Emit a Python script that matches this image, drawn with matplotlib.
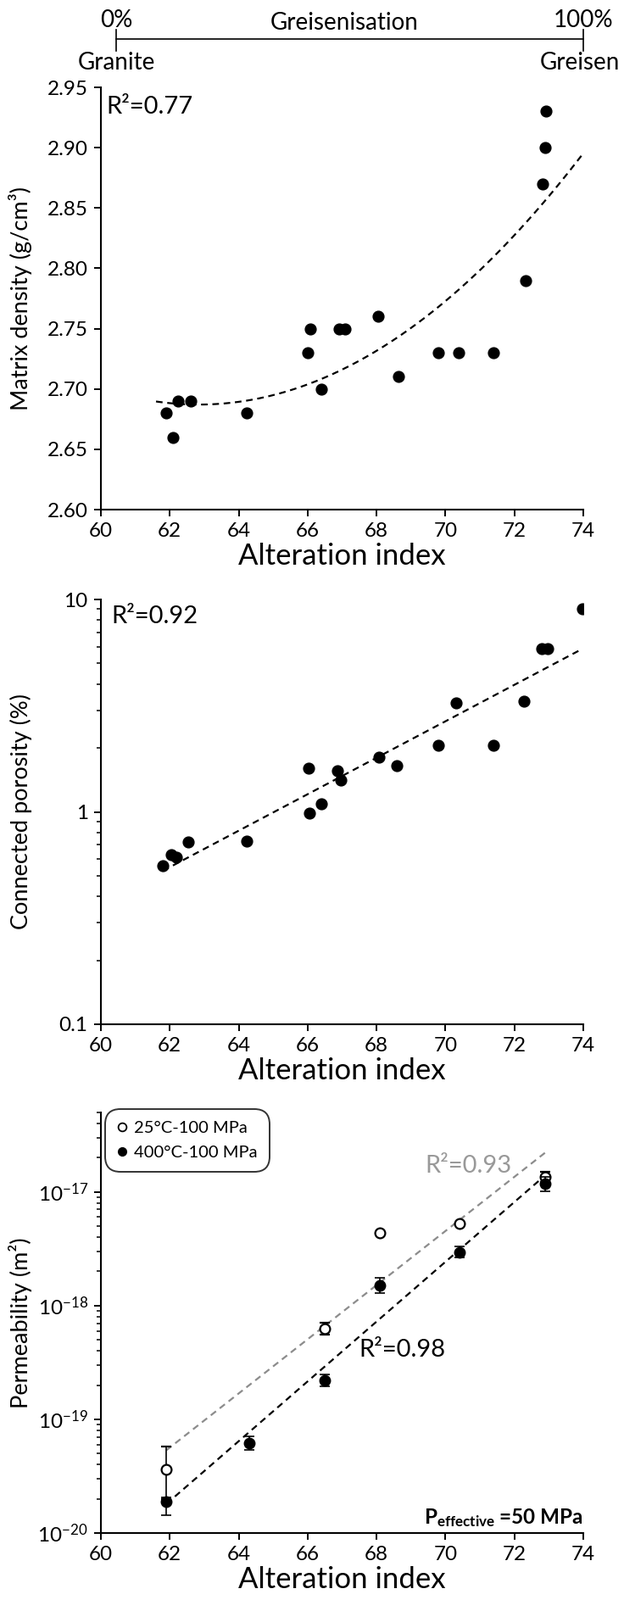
import numpy as np
import matplotlib
matplotlib.use("Agg")
import matplotlib.pyplot as plt
from matplotlib.lines import Line2D
from matplotlib.ticker import FixedLocator, LogLocator, NullFormatter, FuncFormatter

plt.rcParams['font.family'] = ['Lato', 'DejaVu Sans']
plt.rcParams['mathtext.fontset'] = 'custom'
plt.rcParams['mathtext.rm'] = 'Lato'
plt.rcParams['mathtext.it'] = 'Lato:italic'
plt.rcParams['mathtext.bf'] = 'Lato:bold'

# panels 1 and 2: same 19 samples
alt_index = [61.89, 62.09, 62.24, 62.61, 64.24, 66.01, 66.08, 66.40, 66.92, 67.08,
             68.04, 68.63, 69.80, 70.38, 71.39, 72.32, 72.82, 72.90, 72.91]
matrix_density = [2.68, 2.66, 2.69, 2.69, 2.68, 2.73, 2.75, 2.70, 2.75, 2.75,
                  2.76, 2.71, 2.73, 2.73, 2.73, 2.79, 2.87, 2.90, 2.93]

por_index = [61.80, 62.05, 62.20, 62.54, 64.22, 66.02, 66.06, 66.39, 66.87, 66.96,
             68.06, 68.58, 69.80, 70.32, 71.38, 72.28, 72.79, 72.96, 73.97]
porosity = [0.56, 0.627, 0.612, 0.721, 0.730, 1.606, 0.988, 1.096, 1.557, 1.408,
            1.814, 1.645, 2.062, 3.26, 2.06, 3.32, 5.86, 5.86, 9.01]

# panel 3: permeability
k25_index = [61.9, 66.5, 68.1, 70.4, 72.9]
k25 = [3.6e-20, 6.3e-19, 4.4e-18, 5.3e-18, 1.35e-17]
k25_lo = [2.0e-20, 5.6e-19, 4.4e-18, 5.3e-18, 1.22e-17]
k25_hi = [5.8e-20, 7.1e-19, 4.4e-18, 5.3e-18, 1.5e-17]

k400_index = [61.9, 64.3, 66.5, 68.1, 70.4, 72.9]
k400 = [1.9e-20, 6.2e-20, 2.2e-19, 1.5e-18, 2.95e-18, 1.18e-17]
k400_lo = [1.43e-20, 5.4e-20, 1.95e-19, 1.3e-18, 2.65e-18, 1.02e-17]
k400_hi = [2.05e-20, 7.1e-20, 2.5e-19, 1.75e-18, 3.3e-18, 1.35e-17]

x_ticks = [60, 62, 64, 66, 68, 70, 72, 74]
density_ticks = [2.60, 2.65, 2.70, 2.75, 2.80, 2.85, 2.90, 2.95]

W, H = 736, 1887
fig = plt.figure(figsize=(W / 100, H / 100), dpi=100)


def px_axes(left, right, top, bottom):
    return fig.add_axes([left / W, 1 - bottom / H, (right - left) / W, (bottom - top) / H])


ax1 = px_axes(119, 688, 103, 601)
ax2 = px_axes(119, 688, 707, 1208)
ax3 = px_axes(119, 688, 1312, 1808)

TICK_FS = 17.5
XLAB_FS = 25
YLAB_FS = 19.5
R2_FS = 21
dash = (0, (3.5, 2.5))

for ax in (ax1, ax2, ax3):
    for s in ('top', 'right'):
        ax.spines[s].set_visible(False)
    for s in ('left', 'bottom'):
        ax.spines[s].set_linewidth(1.5)
    ax.set_xlim(60, 74)
    ax.set_xticks(x_ticks)
    ax.tick_params(which='major', direction='out', length=6, width=1.4,
                   labelsize=TICK_FS, pad=5)
    ax.tick_params(which='minor', direction='out', length=3.5, width=1.1)
    ax.set_xlabel('Alteration index', fontsize=XLAB_FS, labelpad=2)
    ax.yaxis.set_label_coords(-0.142, 0.5)

# ---- panel 1 ----
ax1.scatter(alt_index, matrix_density, s=85, color='black', zorder=3)
c1 = np.polyfit(alt_index, matrix_density, 2)
xf1 = np.linspace(61.6, 74, 100)
ax1.plot(xf1, np.polyval(c1, xf1), color='black', lw=1.6, linestyle=dash)
ax1.set_ylim(2.60, 2.95)
ax1.set_yticks(density_ticks)
ax1.yaxis.set_major_formatter(FuncFormatter(lambda v, p: f'{v:.2f}'))
ax1.set_ylabel('Matrix density (g/cm³)', fontsize=YLAB_FS)
ax1.text(0.011, 0.938, 'R²=0.77', transform=ax1.transAxes, fontsize=R2_FS,
         va='baseline', ha='left')

# header bar: greisenisation (pixel rows converted to axes fraction)
def hy_of(row):
    return 1 + (103 - row) / 498

hx0, hx1 = (137 - 119) / 569, 1.0
ax1.plot([hx0, hx1], [hy_of(46), hy_of(46)], transform=ax1.transAxes, color='black',
         lw=1.2, clip_on=False)
for hx in (hx0, hx1):
    ax1.plot([hx, hx], [hy_of(60), hy_of(35)], transform=ax1.transAxes,
             color='black', lw=1.2, clip_on=False)
HFS = 20
ax1.text(hx0, hy_of(32), '0%', transform=ax1.transAxes, fontsize=HFS,
         ha='center', va='baseline')
ax1.text(hx1, hy_of(32), '100%', transform=ax1.transAxes, fontsize=HFS,
         ha='center', va='baseline')
ax1.text(0.505, hy_of(35), 'Greisenisation', transform=ax1.transAxes,
         fontsize=HFS, ha='center', va='baseline')
ax1.text(hx0, hy_of(82), 'Granite', transform=ax1.transAxes, fontsize=HFS,
         ha='center', va='baseline')
ax1.text(hx1 - 0.008, hy_of(82), 'Greisen', transform=ax1.transAxes, fontsize=HFS,
         ha='center', va='baseline')

# ---- panel 2 ----
ax2.scatter(por_index, porosity, s=85, color='black', zorder=3)
c2 = np.polyfit(por_index, np.log10(porosity), 1)
xf2 = np.linspace(61.8, 73.9, 100)
ax2.plot(xf2, 10 ** np.polyval(c2, xf2), color='black', lw=1.6, linestyle=dash)
ax2.set_yscale('log')
ax2.set_ylim(0.1, 10)
ax2.yaxis.set_major_locator(FixedLocator([0.1, 1, 10]))
ax2.yaxis.set_major_formatter(FuncFormatter(lambda v, p: f'{v:g}'))
ax2.yaxis.set_minor_locator(LogLocator(base=10, subs=np.arange(2, 10)))
ax2.yaxis.set_minor_formatter(NullFormatter())
ax2.set_ylabel('Connected porosity (%)', fontsize=YLAB_FS)
ax2.text(0.021, 0.944, 'R²=0.92', transform=ax2.transAxes, fontsize=R2_FS,
         va='baseline', ha='left')

# ---- panel 3 ----
gray = '#8c8c8c'
ax3.set_yscale('log')
ax3.set_ylim(1e-20, 5e-17)
k25_err = [np.array(k25) - np.array(k25_lo), np.array(k25_hi) - np.array(k25)]
k400_err = [np.array(k400) - np.array(k400_lo), np.array(k400_hi) - np.array(k400)]
ax3.errorbar(k25_index, k25, yerr=k25_err, fmt='o', ms=8.5, mfc='white', mec='black',
             mew=1.6, ecolor='black', elinewidth=1.2, capsize=4, capthick=1.2, zorder=3)
ax3.errorbar(k400_index, k400, yerr=k400_err, fmt='o', ms=9, mfc='black', mec='black',
             ecolor='black', elinewidth=1.2, capsize=4, capthick=1.2, zorder=4)
c25 = np.polyfit(k25_index, np.log10(k25), 1)
c400 = np.polyfit(k400_index, np.log10(k400), 1)
xf3 = np.linspace(61.9, 72.95, 100)
ax3.plot(xf3, 10 ** np.polyval(c25, xf3), color=gray, lw=1.6, linestyle=dash, zorder=2)
ax3.plot(xf3, 10 ** np.polyval(c400, xf3), color='black', lw=1.6, linestyle=dash, zorder=2)
ax3.yaxis.set_major_locator(FixedLocator([1e-20, 1e-19, 1e-18, 1e-17]))
ax3.yaxis.set_major_formatter(FuncFormatter(lambda v, p: r'$10^{%d}$' % round(np.log10(v))))
ax3.yaxis.set_minor_locator(LogLocator(base=10, subs=np.arange(2, 10)))
ax3.yaxis.set_minor_formatter(NullFormatter())
ax3.set_ylabel('Permeability (m²)', fontsize=YLAB_FS)
ax3.text(69.4, 10 ** -16.83, 'R²=0.93', color='#999999', fontsize=R2_FS, va='baseline')
ax3.text(67.5, 10 ** -18.45, 'R²=0.98', color='black', fontsize=R2_FS, va='baseline')
ax3.text(1.0, 0.022, r'$\mathbf{P}_{\mathbf{effective}}$ =50 MPa', transform=ax3.transAxes,
         fontsize=17.5, fontweight='bold', ha='right', va='baseline')

handles = [Line2D([], [], marker='o', ls='none', ms=7, mfc='white', mec='black', mew=1.3),
           Line2D([], [], marker='o', ls='none', ms=7, mfc='black', mec='black')]
leg = ax3.legend(handles, ['25°C-100 MPa', '400°C-100 MPa'], loc='upper left',
                 bbox_to_anchor=(9 / 569, 1.0), borderaxespad=0, fontsize=14.5,
                 handlelength=0.6, handletextpad=0.4, borderpad=0.5, labelspacing=0.6,
                 frameon=True, fancybox=True)
frame = leg.get_frame()
frame.set_edgecolor('black')
frame.set_linewidth(1.4)
frame.set_boxstyle('round,pad=0.2,rounding_size=0.9')

fig.savefig('out.png', dpi=100)
